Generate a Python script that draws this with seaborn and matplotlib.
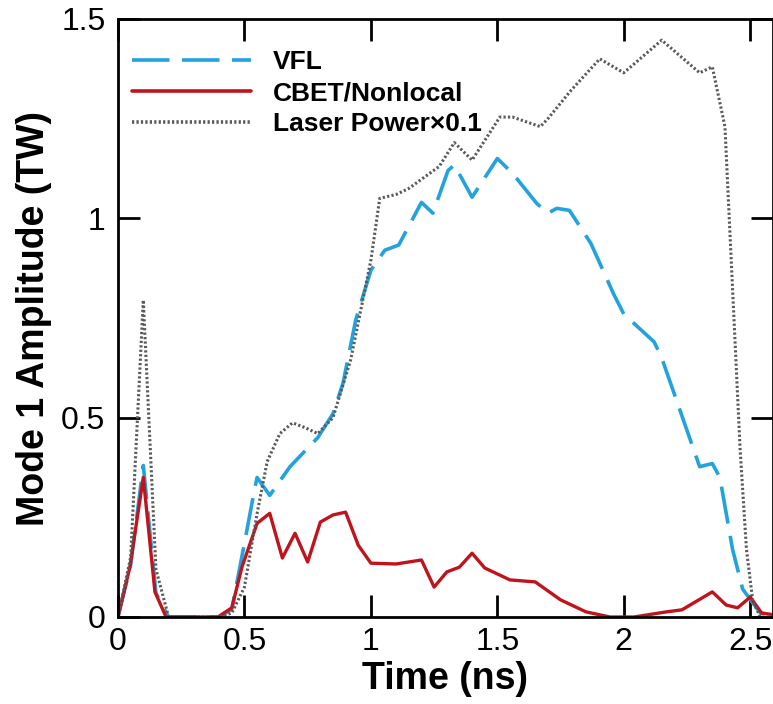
import matplotlib
matplotlib.use("Agg")
import matplotlib.pyplot as plt
import seaborn as sns
import pandas as pd

# ---- data ----
laser_t = [0.0, 0.05, 0.1, 0.15, 0.2, 0.4, 0.45, 0.5, 0.55, 0.59, 0.64, 0.69, 0.74, 0.79, 0.85,
           0.92, 1.0, 1.035, 1.1, 1.15, 1.27, 1.33, 1.40, 1.51, 1.56, 1.67, 1.70, 1.79, 1.905,
           2.0, 2.15, 2.30, 2.35, 2.40, 2.42, 2.44, 2.46, 2.485, 2.51, 2.54, 2.6]
laser_p = [0.0, 0.15, 0.795, 0.12, 0.0, 0.0, 0.01, 0.075, 0.26, 0.39, 0.46, 0.487, 0.475, 0.46, 0.50,
           0.645, 0.895, 1.05, 1.06, 1.075, 1.13, 1.19, 1.146, 1.254, 1.254, 1.23, 1.25, 1.32, 1.40,
           1.365, 1.447, 1.365, 1.38, 1.23, 0.96, 0.69, 0.42, 0.17, 0.04, 0.0, 0.0]

vfl_t = [0.0, 0.05, 0.1, 0.15, 0.2, 0.4, 0.45, 0.5, 0.54, 0.55, 0.6, 0.68, 0.79, 0.85, 0.89,
         0.94, 1.0, 1.055, 1.11, 1.20, 1.245, 1.305, 1.33, 1.40, 1.50, 1.56, 1.655, 1.70, 1.735,
         1.785, 1.87, 1.96, 2.0, 2.12, 2.15, 2.30, 2.35, 2.38, 2.43, 2.47, 2.54, 2.6]
vfl_a = [0.0, 0.13, 0.38, 0.06, 0.0, 0.0, 0.02, 0.185, 0.32, 0.35, 0.305, 0.377, 0.45, 0.51, 0.587,
         0.745, 0.87, 0.92, 0.933, 1.04, 1.013, 1.12, 1.134, 1.053, 1.15, 1.113, 1.038, 1.013, 1.025,
         1.02, 0.937, 0.81, 0.76, 0.69, 0.65, 0.377, 0.385, 0.35, 0.17, 0.07, 0.01, 0.005]

cbet_t = [0.0, 0.047, 0.1, 0.146, 0.19, 0.395, 0.45, 0.49, 0.55, 0.6, 0.65, 0.70, 0.75, 0.80,
          0.85, 0.90, 0.95, 1.0, 1.1, 1.2, 1.25, 1.30, 1.35, 1.40, 1.45, 1.55, 1.65, 1.75, 1.85,
          1.945, 2.04, 2.17, 2.23, 2.35, 2.405, 2.45, 2.50, 2.545, 2.6]
cbet_a = [0.0, 0.125, 0.35, 0.063, 0.0, 0.0, 0.023, 0.125, 0.235, 0.26, 0.148, 0.21, 0.138, 0.238,
          0.256, 0.263, 0.18, 0.135, 0.133, 0.143, 0.075, 0.113, 0.125, 0.16, 0.123, 0.093, 0.088,
          0.043, 0.013, 0.0, 0.0, 0.013, 0.018, 0.063, 0.03, 0.023, 0.05, 0.01, 0.005]

labels = ["VFL", "CBET/Nonlocal", "Laser Power\u00d70.1"]
xticks = [0, 0.5, 1, 1.5, 2, 2.5]
xticklabels = ["0", "0.5", "1", "1.5", "2", "2.5"]
yticks = [0, 0.5, 1, 1.5]
yticklabels = ["0", "0.5", "1", "1.5"]

sns.set_theme(style="ticks")
plt.rcParams["font.family"] = ["Liberation Sans", "DejaVu Sans"]
plt.rcParams["lines.scale_dashes"] = False
plt.rcParams["text.color"] = "black"
plt.rcParams["axes.labelcolor"] = "black"
plt.rcParams["xtick.color"] = "black"
plt.rcParams["ytick.color"] = "black"

fig = plt.figure(figsize=(7.73, 7.04), dpi=100)
ax = fig.add_axes([118 / 773, 87 / 704, 1 - 118 / 773, (617 - 19) / 704])

df_v = pd.DataFrame({"t": vfl_t, "a": vfl_a})
df_c = pd.DataFrame({"t": cbet_t, "a": cbet_a})
df_l = pd.DataFrame({"t": laser_t, "a": laser_p})

sns.lineplot(data=df_v, x="t", y="a", ax=ax, color="#22a3dd", lw=2.6,
             label=labels[0], sort=False)
ax.lines[-1].set_dashes((27, 9))
sns.lineplot(data=df_c, x="t", y="a", ax=ax, color="#c0141c", lw=2.4,
             label=labels[1], sort=False)
sns.lineplot(data=df_l, x="t", y="a", ax=ax, color="#5a5a5a", lw=2.2,
             label=labels[2], sort=False)
ax.lines[-1].set_dashes((1.6, 1.6))

ax.set_xlim(0, 2.59)
ax.set_ylim(0, 1.5)
ax.set_xticks(xticks)
ax.set_xticklabels(xticklabels)
ax.set_yticks(yticks)
ax.set_yticklabels(yticklabels)
ax.tick_params(direction="in", length=16, width=2, top=True, right=True,
               labelsize=23, colors="black")
ax.tick_params(axis="x", pad=7)
ax.tick_params(axis="y", pad=9)
for s in ax.spines.values():
    s.set_linewidth(2)
    s.set_color("black")
ax.set_xlabel("Time (ns)", fontsize=27, fontweight="bold", labelpad=3, color="black")
ax.set_ylabel("Mode 1 Amplitude (TW)", fontsize=27, fontweight="bold", labelpad=7, color="black")

leg = ax.legend(loc="upper left", bbox_to_anchor=(14 / 655, 1 - 31 / 598), frameon=False,
                handlelength=4.5, prop={"weight": "bold", "size": 19},
                borderaxespad=0, borderpad=0, labelspacing=0.27, handletextpad=0.85)
for t in leg.get_texts():
    t.set_color("black")
for h in leg.get_lines():
    h.set_linewidth(2.6)

fig.savefig("out.png", dpi=100)
